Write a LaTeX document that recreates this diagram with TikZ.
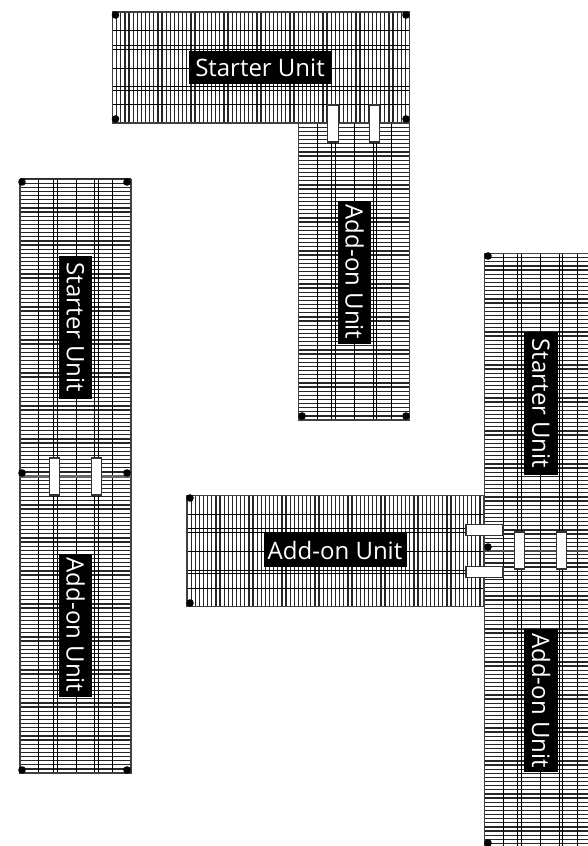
\documentclass[tikz,border=0pt]{standalone}
\usepackage{fontspec}
\setmainfont{Open Sans}
\tikzset{
  x=1pt,y=-1pt,
  fineline/.style={line width=1.25pt,black!85},
  longline/.style={line width=0.9pt,black},
  outerline/.style={line width=1.2pt,black!75},
  bolt/.style={fill=black,draw=none},
  clip plate/.style={draw=black!80,line width=1.1pt,fill=white,inner sep=0pt,outer sep=0pt},
  unitlabel/.style={fill=black,text=white,font=\fontsize{24}{26}\selectfont,inner sep=0pt,minimum width=143pt,minimum height=33.5pt,align=center},
}
% horizontal unit (297 x 111), top-left at (#1,#2)
\newcommand{\gridH}[2]{%
  \begin{scope}[shift={(#1,#2)}]
    \foreach \t in {0,1,...,72}{
      \draw[fineline] ({\t*4.125},0) -- ({\t*4.125},111);
    }
    \foreach \w in {18.5,33,37,56,74.5,78,92.5}{
      \draw[longline] (0,\w) -- (297,\w);
    }
    \draw[outerline] (0,0) rectangle (297,111);
  \end{scope}}
% vertical unit (111 x 297), top-left at (#1,#2)
\newcommand{\gridV}[2]{%
  \begin{scope}[shift={(#1,#2)}]
    \foreach \t in {0,1,...,72}{
      \draw[fineline] (0,{\t*4.125}) -- (111,{\t*4.125});
    }
    \foreach \w in {18.5,33,37,56,74.5,78,92.5}{
      \draw[longline] (\w,0) -- (\w,297);
    }
    \draw[outerline] (0,0) rectangle (111,297);
  \end{scope}}
\begin{document}
\begin{tikzpicture}
\useasboundingbox (0,0) rectangle (588,846);
\clip (0,0) rectangle (588,846);
\fill[white] (0,0) rectangle (588,846);

% top assembly
\gridV{298.5}{123}
\gridH{112.6}{12}
% left assembly
\gridV{20}{179.1}
\gridV{20}{476}
% right assembly
\gridH{187}{495.5}
\gridV{484.5}{253.5}
\gridV{484.5}{550.5}
\draw[line width=2.6pt,black!70] (484.5,551) -- (588,551);
\draw[line width=2.2pt,black!60] (20,476.5) -- (131,476.5);

% corner bolts
\foreach \p/\q in {115.5/15,406/15,115.5/119,406/119,
                   302/416,406/416,
                   22/182,127/182,22/473,127/473,22/770,127/770,
                   190/498,190/603,
                   488/256,488/547,488/843}{
  \fill[bolt] (\p,\q) circle (3.8);
}

% joining plates
\node[clip plate,minimum width=10.5pt,minimum height=37pt] (pa) at (333,123.5) {};
\node[clip plate,minimum width=10.5pt,minimum height=37pt] (pb) at (374.5,123.5) {};
\node[clip plate,minimum width=10.5pt,minimum height=37pt] (pc) at (54.5,476.5) {};
\node[clip plate,minimum width=10.5pt,minimum height=37pt] (pd) at (96.5,476.5) {};
\node[clip plate,minimum width=10.5pt,minimum height=37pt] (pe) at (519.5,550.5) {};
\node[clip plate,minimum width=10.5pt,minimum height=37pt] (pf) at (561.5,550.5) {};
\node[clip plate,minimum width=37pt,minimum height=10.5pt] (pg) at (484.5,530) {};
\node[clip plate,minimum width=37pt,minimum height=10.5pt] (ph) at (484.5,572) {};

% labels
\node[unitlabel] (s1) at (260,67.5) {Starter Unit};
\node[unitlabel,rotate=-90] (a1) at (354.5,272) {Add-on Unit};
\node[unitlabel,rotate=-90] (s2) at (75.5,327.5) {Starter Unit};
\node[unitlabel,rotate=-90] (a2) at (75.5,625) {Add-on Unit};
\node[unitlabel] (a3) at (335,550) {Add-on Unit};
\node[unitlabel,rotate=-90] (s3) at (541,403.5) {Starter Unit};
\node[unitlabel,rotate=-90] (a4) at (541,700.5) {Add-on Unit};
\end{tikzpicture}
\end{document}
